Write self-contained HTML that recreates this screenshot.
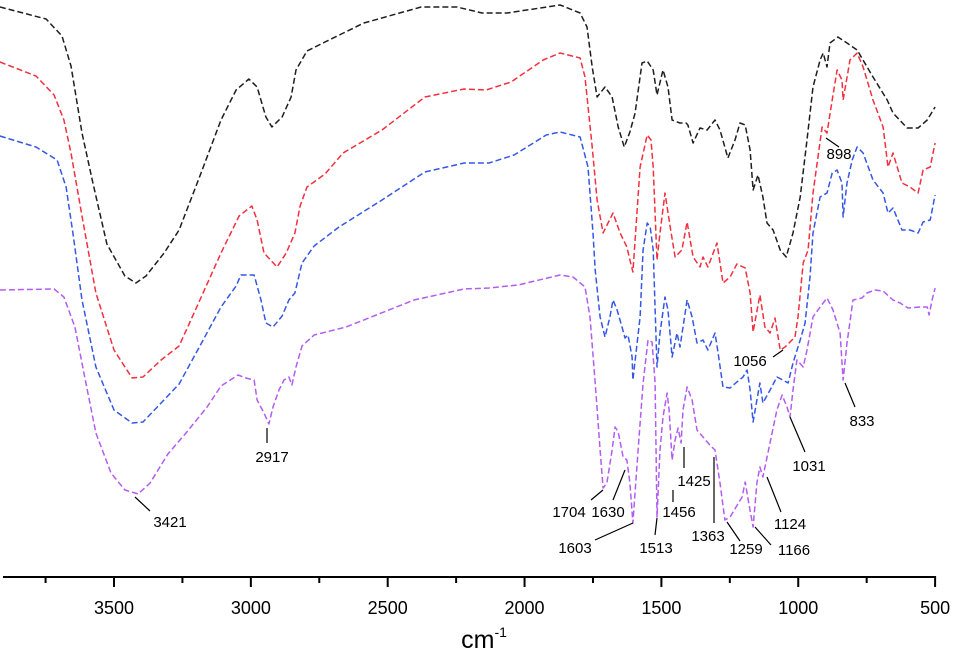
<!DOCTYPE html>
<html><head><meta charset="utf-8"><style>
html,body{margin:0;padding:0;background:#fff;}
svg{display:block;font-family:"Liberation Sans",Arial,sans-serif;}
</style></head><body>
<svg id="chart" width="957" height="661" viewBox="0 0 957 661" xmlns="http://www.w3.org/2000/svg">
<g id="series"></g>
<g id="axis"></g>
<g id="notes"></g>
<text x="484" y="648" font-size="25" text-anchor="middle">cm<tspan font-size="14" dy="-11">-1</tspan></text>
</svg>
<script>
const tickValues = [3500,3000,2500,2000,1500,1000,500];
const minorTicks = [3750,3250,2750,2250,1750,1250,750];

const blackWn = [3917,3748,3690,3657,3617,3577,3526,3460,3420,3383,3317,3262,3186,3109,3054,3007,2977,2945,2923,2886,2853,2835,2795,2729,2587,2378,2247,2155,2064,
1870,1797,1772,1753,1735,1706,1680,1658,1636,1615,1596,1571,1552,1530,1516,1494,1476,1461,1432,1410,1403,1384,1359,1333,1304,1286,1257,1231,1213,1194,1176,1165,1147,1129,1114,1092,1066,1044,1019,993,968,946,920,909,895,884,855,822,785,727,675,654,602,562,529,500];
const blackT = [583,571,554,524,457,407,346,314,307,314,337,360,414,470,500,511,503,473,463,473,493,520,539,548,567,583,583,577,577,
585,577,563,523,493,503,493,463,443,458,477,527,529,520,495,520,503,470,467,467,465,447,462,460,470,460,432,450,467,465,440,400,415,393,367,360,340,333,357,393,450,503,530,537,523,547,553,547,540,513,490,477,462,462,470,483];

const redWn = [3917,3785,3719,3683,3657,3617,3566,3500,3434,3394,3328,3262,3186,3109,3043,2996,2977,2952,2904,2871,2839,2820,2795,2729,2663,2521,2364,2221,2141,2049,1932,
1870,1797,1779,1753,1735,1713,1677,1651,1626,1615,1604,1578,1552,1538,1530,1516,1505,1487,1468,1450,1425,1406,1384,1359,1348,1330,1297,1275,1249,1224,1194,1176,1165,1140,1122,1103,1085,1066,1048,1030,1012,1001,982,964,946,913,895,876,858,840,836,811,785,763,727,690,672,654,621,592,562,544,518,500];
const redT = [528,514,495,470,437,374,297,240,212,213,230,244,290,337,374,384,370,337,323,337,357,384,403,416,437,460,493,501,500,508,530,
537,532,513,443,390,357,377,357,343,330,318,423,455,450,423,330,357,397,363,333,340,368,333,323,333,323,347,307,313,326,322,297,258,295,263,257,272,240,243,248,253,273,327,340,397,463,457,490,520,510,490,530,537,523,490,463,423,437,407,403,397,420,423,447];

const blueWn = [3917,3785,3708,3675,3650,3617,3566,3500,3434,3394,3328,3262,3186,3109,3054,3036,2988,2963,2945,2919,2886,2861,2839,2813,2769,2678,2521,2364,2221,2130,2038,1921,
1870,1797,1768,1750,1742,1724,1706,1688,1677,1662,1644,1633,1622,1607,1604,1578,1567,1552,1541,1530,1516,1505,1487,1476,1461,1443,1432,1406,1388,1370,1348,1330,1304,1293,1275,1249,1224,1202,1187,1176,1165,1151,1140,1129,1103,1078,1056,1037,1019,993,975,957,946,920,895,876,858,840,836,822,803,785,763,727,690,672,654,621,592,562,544,518,500];
const blueT = [454,443,430,403,357,290,223,180,167,168,187,206,244,283,304,315,315,290,267,263,274,290,297,327,344,363,390,418,427,427,435,455,
458,453,423,357,320,273,253,273,290,280,263,252,255,233,210,273,340,367,363,340,223,257,293,280,233,257,243,290,273,247,250,240,257,237,203,202,208,213,220,200,168,190,207,187,200,213,210,207,227,250,267,313,357,393,397,417,420,407,373,407,430,443,437,410,397,377,382,360,360,357,368,370,395];

const purpleWn = [3917,3719,3683,3643,3602,3566,3511,3460,3412,3368,3303,3237,3160,3109,3047,3018,2988,2977,2952,2934,2919,2897,2879,2861,2850,2835,2813,2769,2652,2404,2221,2130,2024,
1870,1823,1779,1761,1742,1724,1713,1699,1680,1669,1658,1640,1626,1615,1604,1585,1567,1549,1534,1523,1516,1505,1494,1479,1472,1461,1450,1439,1428,1421,1406,1388,1370,1348,1323,1304,1286,1268,1249,1205,1194,1183,1165,1151,1140,1129,1111,1078,1059,1041,1030,1019,1005,982,968,946,920,895,873,847,836,822,800,767,749,720,690,654,628,599,555,529,522,511,500];
const purpleT = [300,301,293,263,206,157,117,100,96,107,136,157,183,204,215,212,210,190,177,166,183,200,210,213,205,223,244,255,263,290,301,302,305,
315,313,303,273,207,140,102,107,140,163,158,133,130,107,67,140,207,250,248,207,73,140,173,197,180,130,150,162,147,180,203,190,160,153,145,140,107,70,73,93,108,90,63,107,123,113,137,180,195,183,173,200,230,223,240,273,283,292,280,257,210,247,290,292,297,300,299,290,287,282,283,283,275,290,302];

const peakLabels = ["3421","2917","898","1056","833","1031","1124","1363","1425","1456","1630","1704","1603","1513","1259","1166"];

const NS = "http://www.w3.org/2000/svg";
function xs(v){ return 114 + (3500 - v) * 0.2737; }
function ys(t){ return 590 - t; }
function mk(tag, attrs, parent){
  const e = document.createElementNS(NS, tag);
  for (const k in attrs) e.setAttribute(k, attrs[k]);
  parent.appendChild(e); return e;
}
const gS = document.getElementById('series');
function drawSeries(wn, t, color, name){
  const n = Math.min(wn.length, t.length);
  let d = '';
  for (let i=0;i<n;i++) d += (i?'L':'M') + xs(wn[i]).toFixed(1) + ',' + ys(t[i]).toFixed(1);
  const p = mk('path', {d:d, fill:'none', stroke:color, 'stroke-width':1.5, 'stroke-dasharray':'6 3', 'stroke-linejoin':'round'}, gS);
  
  
}
drawSeries(blackWn, blackT, '#1e1e1e', 'series-black');
drawSeries(redWn, redT, '#f2303f', 'series-red');
drawSeries(blueWn, blueT, '#3557e6', 'series-blue');
drawSeries(purpleWn, purpleT, '#b35cf2', 'series-purple');

const gA = document.getElementById('axis');
const axLine = mk('line', {x1:3, y1:577, x2:xs(500)+1, y2:577, stroke:'#000', 'stroke-width':2}, gA);


tickValues.forEach(v=>{
  const l = mk('line', {x1:xs(v), y1:577, x2:xs(v), y2:587, stroke:'#000', 'stroke-width':2}, gA);
  
  
  const tx = mk('text', {x:xs(v), y:614, 'font-size':18, 'text-anchor':'middle', fill:'#000'}, gA);
  tx.textContent = v;
  
  
});
minorTicks.forEach(v=>{
  const l = mk('line', {x1:xs(v), y1:577, x2:xs(v), y2:583, stroke:'#000', 'stroke-width':2}, gA);
  
  
});

const notePos = [[170,527],[272,462],[839,159],[750,366],[862,426],[809,471],[790,529],[708,541],[694,486],[679,517],[608,517],[569,517],[575,553],[656,553],[746,554],[794,555]];
const leaders = [[135,497,150,511],[267,428,267,443],[826,138,839,147],[773,357,783,350],[845,383,855,407],[790,417,805,452],[767,477,781,512],[714,457,714,523],[684,447,684,468],[673,490,673,502],[625,470,613,500],[603,490,591,500],[633,523,595,540],[657,518,655,535],[727,522,740,541],[755,527,771,545]];
const gN = document.getElementById('notes');
peakLabels.forEach((lab,i)=>{
  const L = leaders[i];
  const ln = mk('line', {x1:L[0], y1:L[1], x2:L[2], y2:L[3], stroke:'#000', 'stroke-width':1.2}, gN);
  
  
  const tx = mk('text', {x:notePos[i][0], y:notePos[i][1], 'font-size':15, 'text-anchor':'middle', fill:'#000'}, gN);
  tx.textContent = lab;
  
  
});
</script>
</body></html>
